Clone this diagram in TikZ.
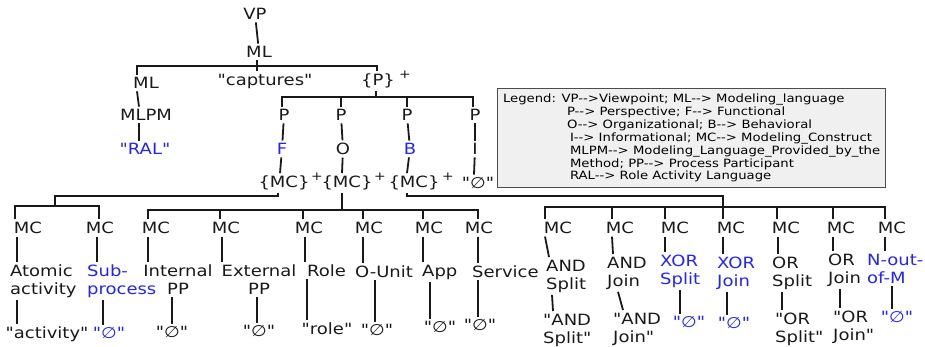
\documentclass[tikz,border=0pt]{standalone}
\usepackage{fontspec}
\setmainfont{DejaVu Sans}[FakeStretch=1.16, Ligatures=TeXOff]
\usetikzlibrary{calc}
\definecolor{refblue}{RGB}{35,35,250}
\newcommand{\treefont}{\fontsize{15.5}{18}\selectfont}
\newcommand{\legfont}{\fontsize{11.4}{12.9}\selectfont}

\begin{document}
\begin{tikzpicture}[x=1pt, y=-1pt,
  word/.style={inner xsep=0pt, inner ysep=2.5pt, font=\treefont, text=black!90},
  blueword/.style={word, text=refblue},
  leftlab/.style={word, align=left, anchor=north west},
  midlab/.style={word, align=center, anchor=north},
  plus/.style={inner sep=0pt, font=\fontsize{12}{12}\selectfont, text=black!90},
  link/.style={line width=1.8pt, black!90},
  legendbox/.style={draw=black!70, fill=black!6, line width=1.2pt, font=\legfont,
                    align=left, anchor=north west, minimum width=388pt, minimum height=99pt},
]
\useasboundingbox (0,0) rectangle (925,347);

% === Upper tree ===
\node[word] (vp) at (255,14) {VP};
\node[word] (mlA) at (259,52) {ML};
\node[word] (mlB) at (146,83) {ML};
\node[word] (capt) at (265,81) {"captures"};
\node[word] (pset) at (378,81) {\{P\}};
\node[plus] (pplus) at (405,75) {+};
\node[word] (mlpm) at (146,115) {MLPM};
\node[blueword] (ral) at (145,149) {"RAL"};

\node[word] (pF) at (284,115) {P};
\node[word] (pO) at (341,115) {P};
\node[word] (pB) at (407,115) {P};
\node[word] (pI) at (475,115) {P};
\node[blueword] (vF) at (282,149) {F};
\node[word] (vO) at (343,149) {O};
\node[blueword] (vB) at (410,149) {B};
\node[word] (vI) at (475,149) {I};
\node[word] (mcF) at (284,183) {\{MC\}};
\node[plus] (plusF) at (317,177) {+};
\node[word] (mcO) at (347,183) {\{MC\}};
\node[plus] (plusO) at (380,177) {+};
\node[word] (mcB) at (414,183) {\{MC\}};
\node[plus] (plusB) at (448,177) {+};
\node[word] (nulI) at (478,183) {"∅"};

\coordinate (barML) at (257,66);
\coordinate (barP) at (376,97);

\draw[link] (vp) -- (mlA);
\draw[link] ([xshift=-2]mlA.south) -- ([xshift=-8]capt.north);
\draw[link] ([xshift=-9]mlB.north) |- (barML) -| ([xshift=-1]pset.north);
\draw[link] ([xshift=-9]mlB.south) -- ([xshift=-7]mlpm.north);
\draw[link] ([xshift=-7]mlpm.south) -- ([xshift=-6]ral.north);
\draw[link] ([xshift=-2]pset.south) -- (barP);
\draw[link] ([xshift=-2]pF.north) |- (barP) -| ([xshift=-2]pI.north);
\draw[link] (pO.north) |- (barP);
\draw[link] (pB.north) |- (barP);
\draw[link] (pF) -- (vF);
\draw[link] (pO) -- (vO);
\draw[link] (pB) -- (vB);
\draw[link] (pI) -- (vI);
\draw[link] (vF) -- ([xshift=-4]mcF.north);
\draw[link] (vO) -- ([xshift=-5]mcO.north);
\draw[link] (vB) -- ([xshift=-7]mcB.north);
\draw[link] (vI) -- ([xshift=-4]nulI.north);

% === Legend ===
\node[legendbox] (legend) at (497,88) {Legend: VP-->Viewpoint; ML--> Modeling\_language\\
  \hspace*{64pt}P--> Perspective; F--> Functional\\
  \hspace*{64pt}O--> Organizational; B--> Behavioral\\
  \hspace*{67pt}I--> Informational; MC--> Modeling\_Construct\\
  \hspace*{67pt}MLPM--> Modeling\_Language\_Provided\_by\_the\\
  \hspace*{67pt}Method; PP--> Process Participant\\
  \hspace*{67pt}RAL--> Role Activity Language};

% === Modeling constructs ===
\node[word] (mc1) at (28,228) {MC};
\node[word] (mc2) at (100,228) {MC};
\node[word] (mc3) at (156,228) {MC};
\node[word] (mc4) at (226,228) {MC};
\node[word] (mc5) at (309,228) {MC};
\node[word] (mc6) at (369,228) {MC};
\node[word] (mc7) at (429,228) {MC};
\node[word] (mc8) at (479,228) {MC};
\node[word] (mc9) at (558,228) {MC};
\node[word] (mc10) at (620,228) {MC};
\node[word] (mc11) at (675,228) {MC};
\node[word] (mc12) at (731,228) {MC};
\node[word] (mc13) at (786,228) {MC};
\node[word] (mc14) at (841,228) {MC};
\node[word] (mc15) at (892,228) {MC};

\node[leftlab] (lab1) at (10,262) {Atomic\\activity};
\node[leftlab, text=refblue] (lab2) at (87,262) {Sub-\\process};
\node[midlab] (lab3) at (178,262) {Internal\\PP};
\node[midlab] (lab4) at (259,262) {External\\PP};
\node[leftlab] (lab5) at (307,262) {Role};
\node[leftlab] (lab6) at (355,263) {O-Unit};
\node[leftlab] (lab7) at (422,262) {App};
\node[leftlab] (lab8) at (472,263) {Service};
\node[leftlab] (lab9) at (546,257) {AND\\Split};
\node[leftlab] (lab10) at (607,254) {AND\\Join};
\node[leftlab, text=refblue] (lab11) at (660,252) {XOR\\Split};
\node[leftlab, text=refblue] (lab12) at (717,254) {XOR\\Join};
\node[leftlab] (lab13) at (772,254) {OR\\Split};
\node[leftlab] (lab14) at (828,251) {OR\\Join};
\node[leftlab, text=refblue] (lab15) at (867,251) {N-out-\\of-M};

\node[word] (leaf1) at (47,334) {"activity"};
\node[blueword] (leaf2) at (109,333) {"∅"};
\node[word] (leaf3) at (172,332) {"∅"};
\node[word] (leaf4) at (259,331) {"∅"};
\node[word] (leaf5) at (327,329) {"role"};
\node[word] (leaf6) at (377,330) {"∅"};
\node[word] (leaf7) at (440,327) {"∅"};
\node[word] (leaf8) at (480,325) {"∅"};
\node[leftlab] (leaf9) at (543,311) {"AND\\Split"};
\node[leftlab] (leaf10) at (613,310) {"AND\\Join"};
\node[blueword] (leaf11) at (689,322) {"∅"};
\node[blueword] (leaf12) at (734,323) {"∅"};
\node[leftlab] (leaf13) at (775,310) {"OR\\Split"};
\node[leftlab] (leaf14) at (833,308) {"OR\\Join"};
\node[blueword] (leaf15) at (897,317) {"∅"};

% === Branch bars ===
\coordinate (kF) at (55,196);
\coordinate (barF) at (55,206);
\coordinate (barO) at (342,210);
\coordinate (kB) at (723,196);
\coordinate (barB) at (723,207);

\draw[link] ([xshift=-6]mcF.south) |- (kF) -- (barF);
\draw[link] ([xshift=-13]mc1.north) |- (barF) -| ([xshift=-1]mc2.north);

\draw[link] ([xshift=-5]mcO.south) -- (barO);
\draw[link] ([xshift=-8]mc3.north) |- (barO) -| ([xshift=-1]mc8.north);
\draw[link] ([xshift=-6]mc4.north) |- (barO);
\draw[link] ([xshift=-6]mc5.north) |- (barO);
\draw[link] ([xshift=-6]mc6.north) |- (barO);
\draw[link] ([xshift=-6]mc7.north) |- (barO);

\draw[link] ([xshift=-7]mcB.south) |- (kB) -- ([xshift=-8]mc12.north);
\draw[link] ([xshift=-13]mc9.north) |- (barB) -| ([xshift=-7]mc15.north);
\draw[link] ([xshift=-8]mc10.north) |- (barB);
\draw[link] ([xshift=-10]mc11.north) |- (barB);
\draw[link] ([xshift=-9]mc13.north) |- (barB);
\draw[link] ([xshift=-8]mc14.north) |- (barB);

% === MC to construct ===
\draw[link] ([xshift=-11]mc1.south) -- ([xshift=7]lab1.north west);
\draw[link] ([xshift=-3]mc2.south) -- ([xshift=10]lab2.north west);
\draw[link] ([xshift=-8]mc3.south) -- ([xshift=-30]lab3.north);
\draw[link] ([xshift=-4]mc4.south) -- ([xshift=-37]lab4.north);
\draw[link] ([xshift=-4]mc5.south) -- ([xshift=-2]lab5.north west);
\draw[link] ([xshift=-6]mc6.south) -- ([xshift=8]lab6.north west);
\draw[link] ([xshift=-6]mc7.south) -- ([xshift=1]lab7.north west);
\draw[link] ([xshift=-1]mc8.south) -- ([xshift=6]lab8.north west);
\draw[link] ([xshift=-13]mc9.south) -- ([xshift=3]lab9.north west);
\draw[link] ([xshift=-8]mc10.south) -- ([xshift=6]lab10.north west);
\draw[link] ([xshift=-10]mc11.south) -- ([xshift=5]lab11.north west);
\draw[link] ([xshift=-8]mc12.south) -- ([xshift=6]lab12.north west);
\draw[link] ([xshift=-8]mc13.south) -- ([xshift=6]lab13.north west);
\draw[link] ([xshift=-8]mc14.south) -- ([xshift=5]lab14.north west);
\draw[link] ([xshift=-7]mc15.south) -- ([xshift=18]lab15.north west);

% === construct to keyword ===
\draw[link] ([xshift=7]lab1.south west) -- ([xshift=-30]leaf1.north);
\draw[link] ([xshift=16]lab2.south west) -- ([xshift=-6]leaf2.north);
\draw[link] ([xshift=-6]lab3.south) -- (leaf3.north);
\draw[link] ([xshift=-2]lab4.south) -- ([xshift=-2]leaf4.north);
\draw[link] (lab5.south west) -- ([xshift=-20]leaf5.north);
\draw[link] ([xshift=20]lab6.south west) -- ([xshift=-2]leaf6.north);
\draw[link] ([xshift=8]lab7.south west) -- ([xshift=-10]leaf7.north);
\draw[link] ([xshift=6]lab8.south west) -- ([xshift=-2]leaf8.north);
\draw[link] ([xshift=6]lab9.south west) -- ([xshift=10]leaf9.north west);
\draw[link] ([xshift=11]lab10.south west) -- ([xshift=10]leaf10.north west);
\draw[link] ([xshift=20]lab11.south west) -- ([xshift=-9]leaf11.north);
\draw[link] ([xshift=10]lab12.south west) -- ([xshift=-7]leaf12.north);
\draw[link] ([xshift=10]lab13.south west) -- ([xshift=7]leaf13.north west);
\draw[link] ([xshift=12]lab14.south west) -- ([xshift=7]leaf14.north west);
\draw[link] ([xshift=25]lab15.south west) -- ([xshift=-5]leaf15.north);

\end{tikzpicture}
\end{document}
